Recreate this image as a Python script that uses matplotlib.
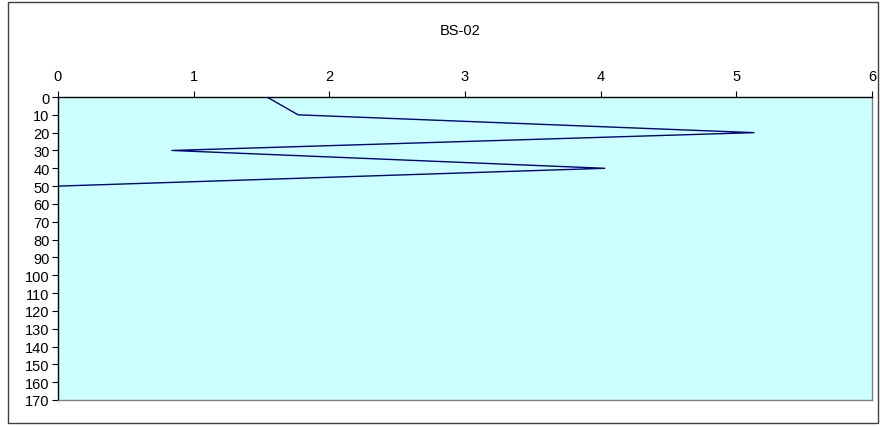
import matplotlib
matplotlib.use("Agg")
import matplotlib.pyplot as plt
from matplotlib.patches import Rectangle

title = "BS-02"
depths = [0, 10, 20, 30, 40, 50]
values = [1.54, 1.77, 5.13, 0.84, 4.03, 0.0]
x_ticks = [0, 1, 2, 3, 4, 5, 6]
y_ticks = list(range(0, 171, 10))

plt.rcParams['font.family'] = ['Liberation Sans', 'DejaVu Sans']

fig = plt.figure(figsize=(8.8, 4.27), dpi=100)
fig.patch.set_facecolor('white')
fig.patches.append(Rectangle((8/880, 3/427), 870/880, 421/427, transform=fig.transFigure,
                             fill=False, edgecolor='#404040', linewidth=1.0))

ax = fig.add_axes([58/880, 1 - 401/427, (872 - 58)/880, (401 - 98)/427])
ax.set_facecolor('#CCFFFF')
ax.plot(values, depths, color='#000080', linewidth=1.0)
ax.set_xlim(0, 6)
ax.set_ylim(170, 0)
ax.set_xticks(x_ticks)
ax.set_yticks(y_ticks)
ax.xaxis.tick_top()
ax.tick_params(axis='x', direction='out', length=4, labelsize=10.5, pad=6, colors='black')
ax.tick_params(axis='y', direction='out', length=4, labelsize=10.5, pad=2)
for s in ['right', 'bottom']:
    ax.spines[s].set_color('#808080')
    ax.spines[s].set_linewidth(1.0)
for s in ['top', 'left']:
    ax.spines[s].set_color('black')
    ax.spines[s].set_linewidth(1.0)

fig.text(460/880, 1 - 31/427, title, ha='center', va='center', fontsize=10.5)

fig.savefig('out.png', dpi=100)
